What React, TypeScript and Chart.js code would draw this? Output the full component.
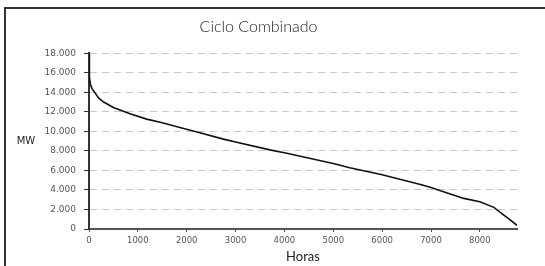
import React, { useEffect, useRef } from "react";
import { Chart, registerables } from "chart.js";

Chart.register(...registerables);

const titleText = "Ciclo Combinado";
const xTitle = "Horas";
const yTitle = "MW";
const hours = [0, 3, 8, 15, 30, 60, 100, 200, 300, 500, 840, 1180, 1500, 1860, 2270, 2750, 3000, 3700, 4000, 5000, 5337, 6000, 6784, 7000, 7194, 7671, 8000, 8286, 8491, 8600, 8760];
const mw = [18000, 17000, 16300, 15500, 14800, 14400, 14100, 13400, 13000, 12450, 11800, 11250, 10880, 10400, 9850, 9200, 8900, 8100, 7800, 6710, 6270, 5550, 4564, 4258, 3910, 3134, 2790, 2215, 1430, 1000, 380];
const xTicks = [0, 1000, 2000, 3000, 4000, 5000, 6000, 7000, 8000];
const yTicks = [0, 2000, 4000, 6000, 8000, 10000, 12000, 14000, 16000, 18000];
const xMax = 8760;
const yMax = 18000;

function fmt(v: number): string {
  const s = String(Math.round(v));
  return s.replace(/\B(?=(\d{3})+(?!\d))/g, ".");
}

const yTitlePlugin = {
  id: "yTitlePlugin",
  afterDraw(chart: any) {
    const ctx = chart.ctx;
    const ca = chart.chartArea;
    ctx.save();
    ctx.font = "10px 'DejaVu Sans'";
    ctx.fillStyle = "#222";
    ctx.textAlign = "center";
    ctx.textBaseline = "middle";
    ctx.fillText(yTitle, 26, (ca.top + ca.bottom) / 2);
    ctx.restore();
  },
};

export default function App() {
  const ref = useRef<HTMLCanvasElement | null>(null);
  useEffect(() => {
    if (!ref.current) return;
    const chart = new Chart(ref.current, {
      type: "scatter",
      data: {
        datasets: [
          {
            data: hours.map((h, i) => ({ x: h, y: mw[i] })),
            showLine: true,
            borderColor: "#111",
            borderWidth: 1.6,
            pointRadius: 0,
            tension: 0,
          },
        ],
      },
      options: {
        animation: false,
        responsive: false,
        devicePixelRatio: 1,
        layout: { padding: { left: 0, right: 6, top: 0, bottom: 0 } },
        plugins: {
          legend: { display: false },
          tooltip: { enabled: false },
          title: {
            display: true,
            text: titleText,
            color: "#222",
            font: { family: "Lato", size: 16, weight: "300" as any },
            padding: { top: 17, bottom: 17 },
          },
        },
        scales: {
          x: {
            type: "linear",
            min: 0,
            max: xMax,
            afterFit: (s: any) => {
              s.height = 37;
            },
            afterBuildTicks: (s: any) => {
              s.ticks = xTicks.map((v) => ({ value: v }));
            },
            ticks: {
              autoSkip: false,
              color: "#555",
              font: { family: "DejaVu Sans", size: 8.5 },
              padding: 4,
              maxRotation: 0,
              callback: (v: any) => String(v),
            },
            grid: { drawOnChartArea: false, tickLength: 3, tickColor: "#555", color: "#555" },
            border: { color: "#555", width: 2 },
            title: {
              display: true,
              text: xTitle,
              color: "#222",
              font: { family: "Lato", size: 13 },
              padding: { top: 0, bottom: 1 },
            },
          },
          y: {
            min: 0,
            max: yMax,
            afterFit: (s: any) => {
              s.width = 89;
            },
            afterBuildTicks: (s: any) => {
              s.ticks = yTicks.map((v) => ({ value: v }));
            },
            ticks: {
              autoSkip: false,
              color: "#555",
              font: { family: "DejaVu Sans", size: 9 },
              padding: 8,
              callback: (v: any) => fmt(Number(v)),
            },
            grid: {
              color: "#c8c8c8",
              lineWidth: 1,
              tickBorderDash: [],
              tickColor: "#333",
              tickLength: 5,
            } as any,
            border: { color: "#333", width: 2, dash: [7, 5] },
          },
        },
      },
      plugins: [yTitlePlugin],
    });
    return () => chart.destroy();
  }, []);

  return (
    <div style={{ position: "fixed", left: 0, top: 0, width: 545, height: 266, overflow: "hidden", background: "#fff" }}>
      <div
        style={{
          position: "absolute",
          left: 4,
          top: 7,
          width: 620,
          height: 320,
          border: "2px solid #333",
          boxSizing: "border-box",
        }}
      />
      <canvas ref={ref} width={523} height={266} style={{ position: "absolute", left: 0, top: 0, width: 523, height: 266 }} />
    </div>
  );
}
